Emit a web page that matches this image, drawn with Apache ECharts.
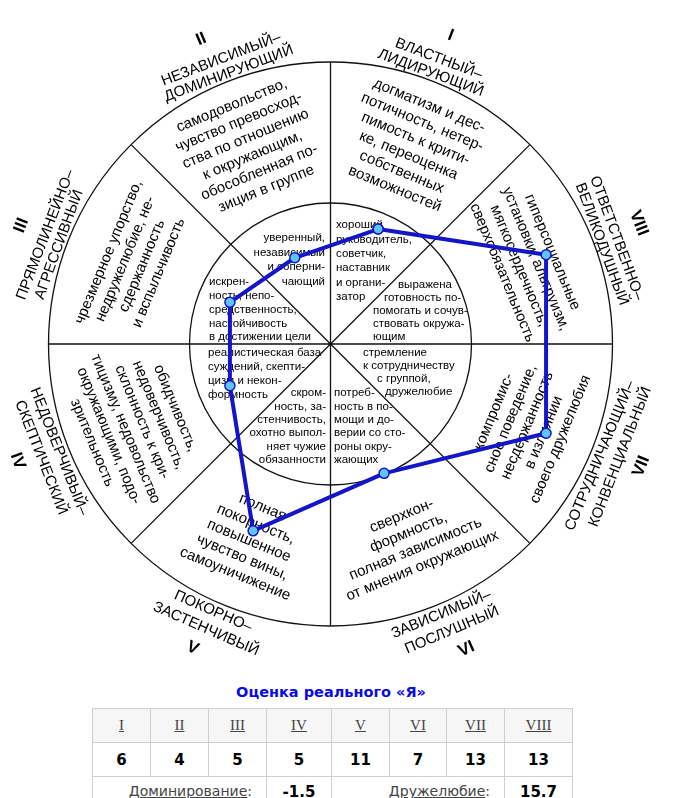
<!DOCTYPE html>
<html><head><meta charset="utf-8">
<script src="https://cdn.jsdelivr.net/npm/echarts@6/dist/echarts.min.js"></script>
<style>
html,body{margin:0;padding:0;background:#fff;}
#wrap{position:relative;width:676px;height:798px;overflow:hidden;}
#chart{position:absolute;left:0;top:0;width:676px;height:680px;}
#title{position:absolute;top:684px;left:0;width:662px;text-align:center;font:bold 14.5px "DejaVu Sans",Verdana,sans-serif;color:#0a0ae6;}
#tbl{position:absolute;top:708px;left:92px;border-collapse:collapse;table-layout:fixed;width:480px;}
#tbl td{border:1px solid #cfcfcf;height:33px;padding:0;text-align:center;vertical-align:middle;}
#tbl tr.h td{background:#f6f6f6;font:15px "Liberation Serif","Times New Roman",serif;color:#444;}
#tbl tr.h td u{text-decoration:underline;}
#tbl tr.v td{font:bold 15px "DejaVu Sans",Verdana,sans-serif;color:#000;}
#tbl tr.s td{font:14px "DejaVu Sans",Verdana,sans-serif;color:#444;height:30px;vertical-align:top;padding-top:6px;}
#tbl tr.s td.r{text-align:right;padding-right:14px;}
#tbl tr.s td.b{font-weight:bold;color:#000;font-size:15px;}
</style></head><body>
<div id="wrap">
<div id="chart"></div>
<div id="title"></div>
<table id="tbl"></table>
</div>
<script>
// ---------------- data ----------------
const octants = ['I','II','III','IV','V','VI','VII','VIII'];
const scores = [6, 4, 5, 5, 11, 7, 13, 13];
const tableTitle = 'Оценка реального «Я»';
const summaryLabels = ['Доминирование', 'Дружелюбие'];
const summaryValues = ['-1.5', '15.7'];
const octantNames = [
  ['ВЛАСТНЫЙ–', 'ЛИДИРУЮЩИЙ'],
  ['НЕЗАВИСИМЫЙ–', 'ДОМИНИРУЮЩИЙ'],
  ['ПРЯМОЛИНЕЙНО–', 'АГРЕССИВНЫЙ'],
  ['НЕДОВЕРЧИВЫЙ–', 'СКЕПТИЧЕСКИЙ'],
  ['ПОКОРНО–', 'ЗАСТЕНЧИВЫЙ'],
  ['ЗАВИСИМЫЙ–', 'ПОСЛУШНЫЙ'],
  ['СОТРУДНИЧАЮЩИЙ–', 'КОНВЕНЦИАЛЬНЫЙ'],
  ['ОТВЕТСТВЕННО–', 'ВЕЛИКОДУШНЫЙ']
];
const ringTexts = [
  ['догматизм и дес-','потичность, нетер-','пимость к крити-','ке, переоценка','собственных','возможностей'],
  ['самодовольство,','чувство превосход-','ства по отношению','к окружающим,','обособленная по-','зиция в группе'],
  ['чрезмерное упорство,','недружелюбие, не-','сдержанность','и вспыльчивость'],
  ['обидчивость,','недоверчивость,','склонность к кри-','тицизму, недовольство','окружающими, подо-','зрительность'],
  ['полная','покорность,','повышенное','чувство вины,','самоуничижение'],
  ['сверхкон-','формность,','полная зависимость','от мнения окружающих'],
  ['компромис-','сное поведение,','несдержанность','в излиянии','своего дружелюбия'],
  ['гиперсоциальные','установки, альтруизм,','мягкосердечность,','сверхобязательность']
];
const innerTexts = [
  ['хороший','руководитель,','советчик,','наставник','и органи-','затор'],
  ['уверенный,','независимый','и соперни-','чающий'],
  ['искрен-','ность, непо-','средственность,','настойчивость','в достижении цели'],
  ['реалистическая база','суждений, скепти-','цизм и некон-','формность'],
  ['скром-','ность, за-','стенчивость,','охотно выпол-','няет чужие','обязанности'],
  ['потреб-','ность в по-','мощи и до-','верии со сто-','роны окру-','жающих'],
  ['стремление','к сотрудничеству','с группой,','дружелюбие'],
  ['выражена','готовность по-','помогать и сочув-','ствовать окружа-','ющим']
];

// ---------------- layout ----------------
const CX = 330.5, CY = 344, R_GRID = 282, R_DATA = 280;
const MID = [67.5, 112.5, 157.5, 202.5, 247.5, 292.5, 337.5, 22.5];
const labelAng = [[69.2,69.7,68.7],[111,110.6,113],[159,159.9,159],[201.6,201.4,200.5],
                  [246.3,246.4,245.6],[292.3,293,294],[337.5,338.7,338.5],[20.3,20.2,21.4]];
// inner-ring text blocks: [x, firstY, lineHeight, align, optional per-line x]
const innerLayout = [
  [336, 225, 14.4, 'left'],
  [325, 238, 14.6, 'right'],
  [209, 282, 13.8, 'left'],
  [208, 353, 14, 'left'],
  [326, 393, 13.4, 'right'],
  [334, 393, 13.4, 'left'],
  [0, 353, 12.8, 'left', [363, 363, 377, 385]],
  [0, 285, 13, 'left', [398, 384, 373, 373, 373]]
];

function rad(d){ return d*Math.PI/180; }
function rotFor(theta){
  const t = ((theta%360)+360)%360;
  const r = (t > 0 && t < 180) ? t - 90 : t + 90;
  return rad(r);
}
function pt(theta, r){ return [CX + r*Math.cos(rad(theta)), CY - r*Math.sin(rad(theta))]; }

const FONT = '"Liberation Sans", Arial, sans-serif';
const graphics = [];
octants.forEach((name, i) => {
  const upper = MID[i] < 180;
  const radii = upper ? [305, 289] : [292, 311];
  octantNames[i].forEach((ln, j) => {
    const a = labelAng[i][j];
    const p = pt(a, radii[j]);
    graphics.push({type:'text', x:p[0], y:p[1], rotation:rotFor(a), z:1,
      style:{text:ln, fill:'#000', font:'15px ' + FONT, textAlign:'center', textVerticalAlign:'middle'}});
  });
  const an = labelAng[i][2];
  const pn = pt(an, upper ? 331 : 334);
  graphics.push({type:'text', x:pn[0], y:pn[1], rotation:rotFor(an), z:1,
    style:{text:name, fill:'#000', font:'bold 17px ' + FONT, textAlign:'center', textVerticalAlign:'middle'}});
  const pr = pt(MID[i], 213);
  graphics.push({type:'text', x:pr[0], y:pr[1], rotation:rotFor(MID[i]), z:1,
    style:{text:ringTexts[i].join('\n'), fill:'#000', font:'15px ' + FONT, lineHeight:18,
      textAlign:'center', textVerticalAlign:'middle'}});
  const L = innerLayout[i];
  innerTexts[i].forEach((ln, j) => {
    const x = L[4] ? L[4][j] : L[0];
    graphics.push({type:'text', x:x, y:L[1] + j*L[2], z:1,
      style:{text:ln, fill:'#000', font:'11.5px ' + FONT, textAlign:L[3], textVerticalAlign:'middle'}});
  });
});

const polyData = octants.map((c, i) => [scores[i], i]);
polyData.push([scores[0], 0]);

const chart = echarts.init(document.getElementById('chart'));
chart.setOption({
  animation:false,
  polar:[{center:[CX, CY], radius:R_GRID}, {center:[CX, CY], radius:R_DATA}],
  angleAxis:[
    {polarIndex:0, type:'category', data:octants, startAngle:45, clockwise:false, boundaryGap:true,
     axisLine:{show:false}, axisTick:{show:false}, axisLabel:{show:false},
     splitLine:{show:true, lineStyle:{color:'#111', width:1.3}}, splitArea:{show:false}},
    {polarIndex:1, type:'category', data:octants, startAngle:45, clockwise:false, boundaryGap:true, show:false}
  ],
  radiusAxis:[
    {polarIndex:0, type:'value', min:0, max:2, interval:1,
     axisLine:{show:false}, axisTick:{show:false}, axisLabel:{show:false},
     splitLine:{show:true, lineStyle:{color:'#111', width:1.3}}, splitArea:{show:false}},
    {polarIndex:1, type:'value', min:-2, max:16, show:false}
  ],
  graphic:{elements:graphics},
  series:[{
    type:'line', coordinateSystem:'polar', polarIndex:1, data:polyData, z:10,
    symbol:'circle', symbolSize:10, showAllSymbol:true,
    lineStyle:{color:'#1414c8', width:4},
    itemStyle:{color:'#5ec6f6', borderColor:'#1414c8', borderWidth:1.5}
  }]
});

// ---------------- table ----------------
document.getElementById('title').textContent = tableTitle;
const colW = [58, 58, 58, 65, 58, 57, 58, 68];
let html = '<colgroup>' + colW.map(w => '<col style="width:' + w + 'px">').join('') + '</colgroup>';
html += '<tr class="h">' + octants.map(o => '<td><u>' + o + '</u></td>').join('') + '</tr>';
html += '<tr class="v">' + scores.map(s => '<td>' + s + '</td>').join('') + '</tr>';
html += '<tr class="s"><td colspan="3" class="r"><u>' + summaryLabels[0] + '</u>:</td><td class="b">' + summaryValues[0] +
        '</td><td colspan="3" class="r"><u>' + summaryLabels[1] + '</u>:</td><td class="b">' + summaryValues[1] + '</td></tr>';
document.getElementById('tbl').innerHTML = html;
</script>
</body></html>
